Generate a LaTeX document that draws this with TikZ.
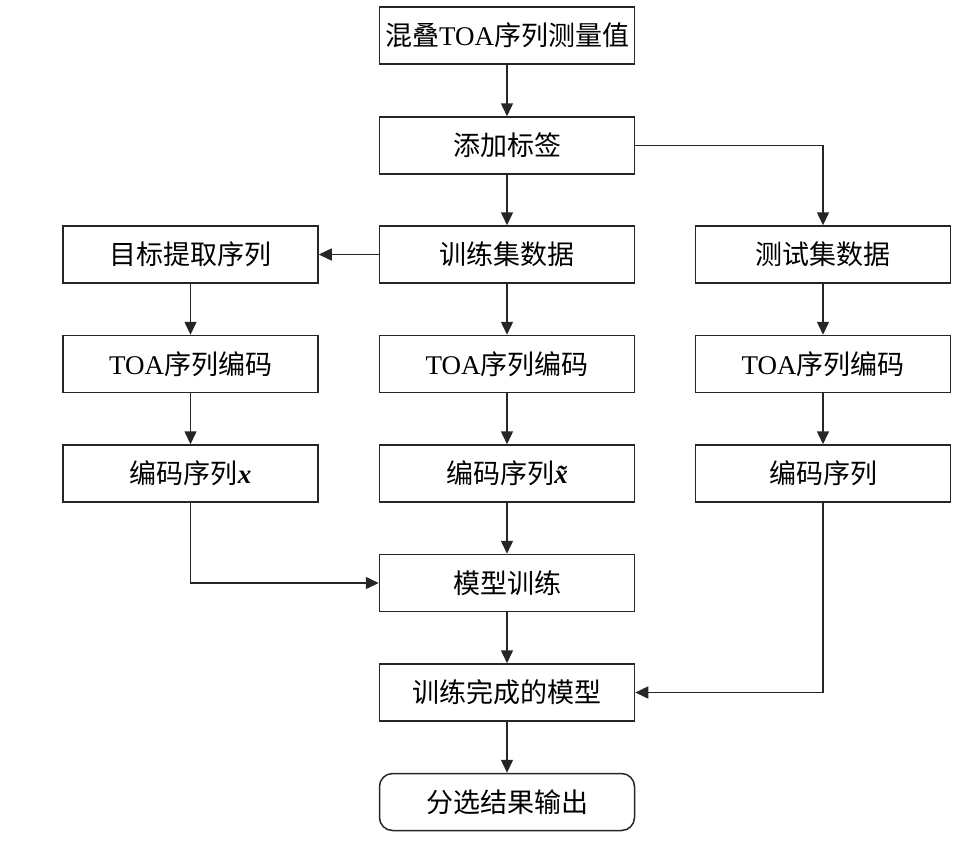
\documentclass[tikz,border=0pt]{standalone}
\usepackage{fontspec}
\setmainfont{Liberation Serif}
\newfontfamily\cjk{Noto Sans CJK SC}
\usetikzlibrary{arrows.meta}
\begin{document}
\begin{tikzpicture}[x=1pt,y=-1pt,
  box/.style={draw=black!85,line width=1.5pt,minimum width=255pt,minimum height=57pt,inner sep=0pt,
    font=\fontsize{27}{30}\selectfont\cjk},
  rbox/.style={box,rounded corners=13pt},
  arr/.style={draw=black!85,line width=1.5pt,-{Triangle[length=13pt,width=12pt]}}]
\useasboundingbox (0,0) rectangle (980,849);
\node[box] (top) at (507,35.5) {混叠{\rmfamily TOA}序列测量值};
\node[box] (tag) at (507,145.5) {添加标签};
\node[box] (ext) at (190.5,254.5) {目标提取序列};
\node[box] (trn) at (507,254.5) {训练集数据};
\node[box] (tst) at (823,254.5) {测试集数据};
\node[box] (enl) at (190.5,364) {{\rmfamily TOA}序列编码};
\node[box] (enm) at (507,364) {{\rmfamily TOA}序列编码};
\node[box] (enr) at (823,364) {{\rmfamily TOA}序列编码};
\node[box] (cdl) at (190.5,473.5) {编码序列{\rmfamily\bfseries\itshape x}};
\node[box] (cdm) at (507,473.5) {编码序列{\rmfamily\bfseries\itshape \~{x}}};
\node[box] (cdr) at (823,473.5) {编码序列};
\node[box] (mdl) at (507,583) {模型训练};
\node[box] (don) at (507,692.5) {训练完成的模型};
\node[rbox] (out) at (507,802) {分选结果输出};
\draw[arr] (top) -- (tag);
\draw[arr] (tag) -- (trn);
\draw[arr] (tag.east) -| (tst.north);
\draw[arr] (trn.west) -- (ext.east);
\draw[arr] (ext) -- (enl);
\draw[arr] (trn) -- (enm);
\draw[arr] (tst) -- (enr);
\draw[arr] (enl) -- (cdl);
\draw[arr] (enm) -- (cdm);
\draw[arr] (enr) -- (cdr);
\draw[arr] (cdl.south) |- (mdl.west);
\draw[arr] (cdm) -- (mdl);
\draw[arr] (mdl) -- (don);
\draw[arr] (cdr.south) |- (don.east);
\draw[arr] (don) -- (out);
\end{tikzpicture}
\end{document}
